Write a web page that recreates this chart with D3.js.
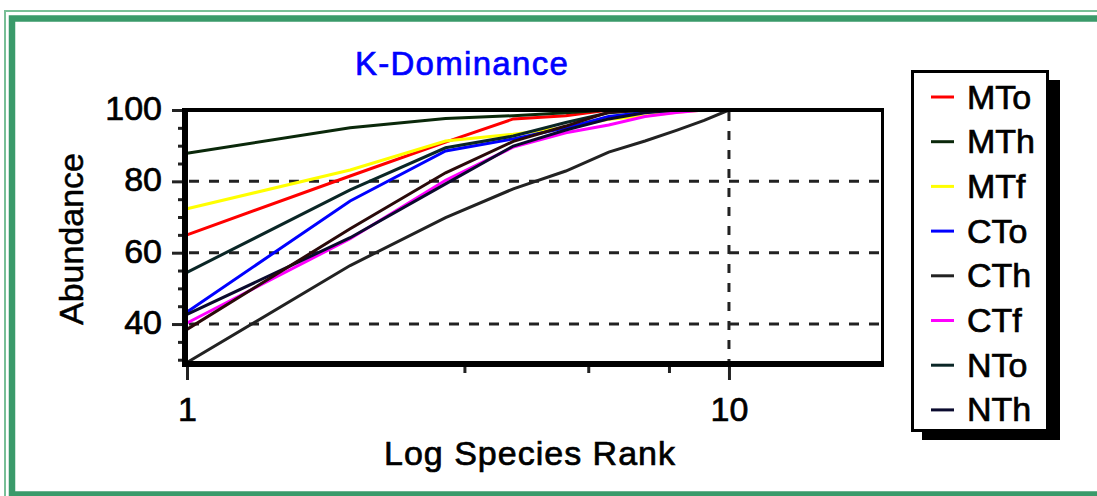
<!DOCTYPE html>
<html>
<head>
<meta charset="utf-8">
<script src="https://cdn.jsdelivr.net/npm/d3@7"></script>
<style>
  html, body { margin: 0; padding: 0; background: #ffffff; }
  svg { display: block; }
  text { font-family: "Liberation Sans", Arial, sans-serif; }
</style>
</head>
<body>
<svg id="chart" width="1097" height="496"></svg>
<script>
// ---------- data ----------
const seriesNames  = ["MTo", "MTh", "MTf", "CTo", "CTh", "CTf", "NTo", "NTh", "NTf"];
const seriesColors = ["#ff0000", "#0a280a", "#ffff00", "#0000ff", "#222222", "#ff00ff", "#0a2626", "#0a0a2e", "#2a0a0a"];
const legendNames  = ["MTo", "MTh", "MTf", "CTo", "CTh", "CTf", "NTo", "NTh"];

// cumulative abundance (%) at species rank 1, 2, 3, ...
const MTo = [65.0, 81.5, 91.0, 97.5, 98.4, 100];
const MTh = [87.9, 95.0, 97.6, 98.4, 99.2, 100];
const MTf = [72.3, 83.2, 91.3, 93.2, 95.1, 97.4, 98.3, 99.4, 100];
const CTo = [43.4, 74.5, 88.5, 91.9, 95.0, 98.2, 99.4, 100];
const CTh = [29.2, 56.4, 69.8, 77.9, 82.9, 88.2, 91.3, 94.3, 97.1, 100];
const CTf = [40.3, 63.9, 80.3, 89.6, 93.6, 95.8, 98.2, 99.3, 100];
const NTo = [54.5, 77.6, 89.4, 92.7, 96.5, 99.2, 100];
const NTh = [42.7, 64.2, 79.3, 89.9, 94.4, 97.5, 99.2, 100];
const NTf = [38.5, 66.7, 82.4, 91.2, 95.5, 99.4, 100];
const seriesValues = [MTo, MTh, MTf, CTo, CTh, CTf, NTo, NTh, NTf];

const xMajorTicks = [1, 10];
const xMinorTicks = [3.25, 5.5, 7.75];
const yMajorTicks = [40, 60, 80, 100];
const yMinorTicks = [30, 35, 45, 50, 55, 65, 70, 75, 85, 90, 95];
const yGridTicks  = [40, 60, 80];
const xGridTicks  = [10];

const titleText  = "K-Dominance";
const xLabelText = "Log Species Rank";
const yLabelText = "Abundance";

// ---------- layout ----------
const svg = d3.select("#chart");
const pLeft = 187, pRight = 882.5, pTop = 110, pBottom = 364;

const x = d3.scaleLog().domain([1, 19.2]).range([pLeft, pRight]);
const y = d3.scaleLinear().domain([28.8, 100]).range([pBottom, pTop]);

// green frame
svg.append("rect").attr("x", 5).attr("y", 11).attr("width", 1200).attr("height", 600)
  .attr("fill", "none").attr("stroke", "#79bf97").attr("stroke-width", 2);
svg.append("rect").attr("x", 12).attr("y", 18.5).attr("width", 1200).attr("height", 476)
  .attr("fill", "none").attr("stroke", "#3a9a6a").attr("stroke-width", 6.5);

// title
svg.append("text").attr("x", 462).attr("y", 75).attr("text-anchor", "middle")
  .attr("font-size", 33).attr("letter-spacing", 1.3).attr("fill", "#0000ff")
  .attr("stroke", "#0000ff").attr("stroke-width", 0.7).text(titleText);

// gridlines
svg.append("g").selectAll("line").data(yGridTicks).join("line")
  .attr("x1", pLeft + 2).attr("x2", pRight - 2)
  .attr("y1", d => y(d)).attr("y2", d => y(d))
  .attr("stroke", "#222").attr("stroke-width", 3).attr("stroke-dasharray", "10,10");
svg.append("g").selectAll("line").data(xGridTicks).join("line")
  .attr("x1", d => x(d)).attr("x2", d => x(d))
  .attr("y1", pTop + 2).attr("y2", pBottom - 3)
  .attr("stroke", "#222").attr("stroke-width", 3).attr("stroke-dasharray", "9,10");

// series
const line = d3.line().x((d, i) => x(i + 1)).y(d => y(d));
svg.append("g").selectAll("path").data(seriesValues).join("path")
  .attr("d", d => line(d))
  .attr("fill", "none")
  .attr("stroke", (d, i) => seriesColors[i])
  .attr("stroke-width", 3)
  .attr("stroke-linejoin", "miter");

// axes (ticks + labels)
function styleAxis(g) {
  g.select(".domain").remove();
  g.selectAll(".tick line").attr("stroke", "#222").attr("stroke-width", 3);
  g.selectAll(".tick text").attr("font-family", "'Liberation Sans', Arial, sans-serif")
    .attr("font-size", 34).attr("fill", "#000").attr("stroke", "#000").attr("stroke-width", 0.7);
}
const axisX = 185;
svg.append("g").attr("transform", `translate(${axisX},0)`)
  .call(d3.axisLeft(y).tickValues(yMinorTicks).tickSize(7).tickFormat(""))
  .call(styleAxis);
svg.append("g").attr("transform", `translate(${axisX + 2},0)`)
  .call(d3.axisLeft(y).tickValues(yMajorTicks).tickSize(15).tickPadding(10).tickFormat(d3.format("d")))
  .call(styleAxis)
  .call(g => g.selectAll(".tick text").attr("dy", "0.28em"));

svg.append("g").attr("transform", `translate(0,${pBottom})`)
  .call(d3.axisBottom(x).tickValues(xMinorTicks).tickSize(9).tickFormat(""))
  .call(styleAxis);
svg.append("g").attr("transform", `translate(0,${pBottom})`)
  .call(d3.axisBottom(x).tickValues(xMajorTicks).tickSize(16).tickPadding(17).tickFormat(d3.format("d")))
  .call(styleAxis);

// plot frame
svg.append("line").attr("x1", 183).attr("x2", 884).attr("y1", 110).attr("y2", 110)
  .attr("stroke", "#000").attr("stroke-width", 4);
svg.append("line").attr("x1", 882.5).attr("x2", 882.5).attr("y1", 108).attr("y2", 367)
  .attr("stroke", "#000").attr("stroke-width", 3);
svg.append("line").attr("x1", 185).attr("x2", 185).attr("y1", 108).attr("y2", 367)
  .attr("stroke", "#000").attr("stroke-width", 6);
svg.append("line").attr("x1", 182).attr("x2", 884).attr("y1", 364).attr("y2", 364)
  .attr("stroke", "#000").attr("stroke-width", 6);

// axis labels
svg.append("text").attr("x", 530).attr("y", 465).attr("text-anchor", "middle")
  .attr("font-size", 34).attr("letter-spacing", 1).attr("fill", "#000")
  .attr("stroke", "#000").attr("stroke-width", 0.7).text(xLabelText);
svg.append("text").attr("transform", "translate(83,239) rotate(-90)").attr("text-anchor", "middle")
  .attr("font-size", 34).attr("fill", "#000")
  .attr("stroke", "#000").attr("stroke-width", 0.5).text(yLabelText);

// legend
const lg = svg.append("g");
lg.append("rect").attr("x", 922).attr("y", 80).attr("width", 138).attr("height", 360).attr("fill", "#000");
lg.append("rect").attr("x", 912.5).attr("y", 71.5).attr("width", 135).attr("height", 359)
  .attr("fill", "#fff").attr("stroke", "#000").attr("stroke-width", 3);
const rowY = d3.scaleLinear().domain([0, 1]).range([97, 141.7]);
const items = lg.selectAll("g.item").data(legendNames).join("g").attr("class", "item")
  .attr("transform", (d, i) => `translate(0,${rowY(i)})`);
items.append("line").attr("x1", 931).attr("x2", 954).attr("y1", 0).attr("y2", 0)
  .attr("stroke", (d, i) => seriesColors[i]).attr("stroke-width", 3);
items.append("text").attr("x", 967).attr("y", 11.5).attr("font-size", 34).attr("fill", "#000")
  .attr("stroke", "#000").attr("stroke-width", 0.7)
  .text(d => d);
</script>
</body>
</html>
